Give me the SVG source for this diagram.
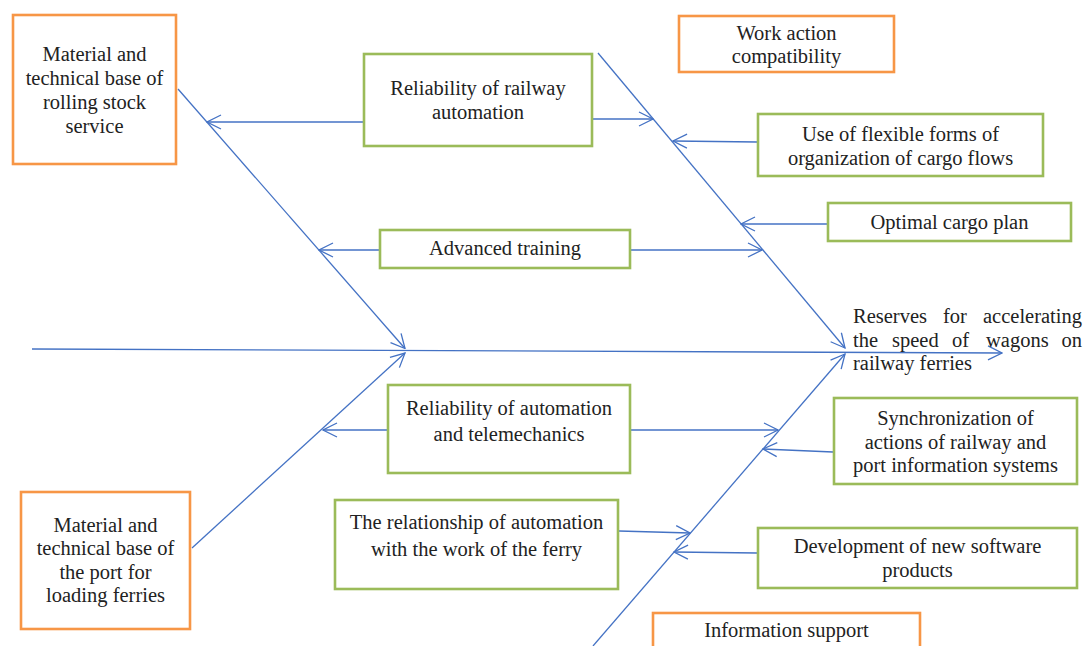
<svg xmlns="http://www.w3.org/2000/svg" width="1086" height="646" viewBox="0 0 1086 646">
<defs>
<marker id="arr" viewBox="0 0 16 16" refX="15" refY="8" markerWidth="16" markerHeight="16" orient="auto" markerUnits="userSpaceOnUse">
<path d="M1,1 L15,8 L1,15" fill="none" stroke="#4472C4" stroke-width="1.3"/>
</marker>
<style>
.o{fill:#fff;stroke:#F79646;stroke-width:2.6}
.g{fill:#fff;stroke:#9BBB59;stroke-width:2.6}
text{font-family:'Liberation Serif','Times New Roman','DejaVu Serif',serif;font-size:20.5px;fill:#222}
.c{text-anchor:middle}
.e{text-anchor:end}
.ln{stroke:#4472C4;stroke-width:1.3;fill:none}
.a{marker-end:url(#arr)}
</style>
</defs>
<rect width="1086" height="646" fill="#fff"/>
<g id="connectors">
<line class="ln a" x1="32" y1="349" x2="1002" y2="353"/>
<line class="ln a" x1="178" y1="89" x2="405" y2="348.5"/>
<line class="ln a" x1="192" y1="548" x2="405" y2="353"/>
<line class="ln a" x1="598" y1="53" x2="845" y2="348"/>
<line class="ln a" x1="593" y1="646" x2="845" y2="354"/>
<line class="ln a" x1="363" y1="122" x2="207" y2="122"/>
<line class="ln a" x1="593" y1="119" x2="653" y2="119"/>
<line class="ln a" x1="757" y1="142" x2="673" y2="141"/>
<line class="ln a" x1="827" y1="224" x2="741" y2="224"/>
<line class="ln a" x1="379" y1="250" x2="319" y2="250"/>
<line class="ln a" x1="631" y1="250" x2="762" y2="250"/>
<line class="ln a" x1="387" y1="430" x2="323" y2="430"/>
<line class="ln a" x1="631" y1="430" x2="778" y2="430"/>
<line class="ln a" x1="833" y1="452" x2="763" y2="449"/>
<line class="ln a" x1="619" y1="531" x2="690" y2="533"/>
<line class="ln a" x1="757" y1="553" x2="674" y2="552"/>
</g>
<g id="n-rolling-stock">
<rect class="o" x="13" y="15" width="163" height="149"/>
<text class="c" x="94.5" y="61">Material and</text>
<text class="c" x="94.5" y="85">technical base of</text>
<text class="c" x="94.5" y="109">rolling stock</text>
<text class="c" x="94.5" y="133">service</text>
</g>
<g id="n-railway-automation">
<rect class="g" x="364" y="54" width="228" height="92"/>
<text class="c" x="478" y="95">Reliability of railway</text>
<text class="c" x="478" y="119">automation</text>
</g>
<g id="n-work-action">
<rect class="o" x="679" y="16" width="215" height="56"/>
<text class="c" x="786.5" y="40">Work action</text>
<text class="c" x="786.5" y="63">compatibility</text>
</g>
<g id="n-flexible-forms">
<rect class="g" x="758" y="114" width="285" height="62"/>
<text class="c" x="900.5" y="141">Use of flexible forms of</text>
<text class="c" x="900.5" y="165">organization of cargo flows</text>
</g>
<g id="n-cargo-plan">
<rect class="g" x="828" y="203" width="243" height="38"/>
<text class="c" x="949.5" y="229">Optimal cargo plan</text>
</g>
<g id="n-advanced-training">
<rect class="g" x="380" y="230" width="250" height="38"/>
<text class="c" x="505" y="255">Advanced training</text>
</g>
<g id="n-spine-label">
<text x="853" y="323">Reserves</text>
<text x="943" y="323">for</text>
<text class="e" x="1082" y="323">accelerating</text>
<text x="853" y="347">the</text>
<text x="892" y="347">speed</text>
<text x="952" y="347">of</text>
<text x="986" y="347">wagons</text>
<text class="e" x="1082" y="347">on</text>
<text x="853" y="370">railway ferries</text>
</g>
<g id="n-telemechanics">
<rect class="g" x="388" y="385" width="242" height="88"/>
<text class="c" x="509" y="415">Reliability of automation</text>
<text class="c" x="509" y="441">and telemechanics</text>
</g>
<g id="n-synchronization">
<rect class="g" x="834" y="398" width="243" height="86"/>
<text class="c" x="955.5" y="425">Synchronization of</text>
<text class="c" x="955.5" y="449">actions of railway and</text>
<text class="c" x="955.5" y="472">port information systems</text>
</g>
<g id="n-port-base">
<rect class="o" x="21" y="492" width="169" height="137"/>
<text class="c" x="105.5" y="532">Material and</text>
<text class="c" x="105.5" y="555">technical base of</text>
<text class="c" x="105.5" y="579">the port for</text>
<text class="c" x="105.5" y="602">loading ferries</text>
</g>
<g id="n-ferry-work">
<rect class="g" x="335" y="500" width="283" height="89"/>
<text class="c" x="476.5" y="529">The relationship of automation</text>
<text class="c" x="476.5" y="556">with the work of the ferry</text>
</g>
<g id="n-software">
<rect class="g" x="758" y="528" width="319" height="60"/>
<text class="c" x="917.5" y="553">Development of new software</text>
<text class="c" x="917.5" y="577">products</text>
</g>
<g id="n-information-support">
<rect class="o" x="653" y="613" width="267" height="40"/>
<text class="c" x="786.5" y="637">Information support</text>
</g>
</svg>
